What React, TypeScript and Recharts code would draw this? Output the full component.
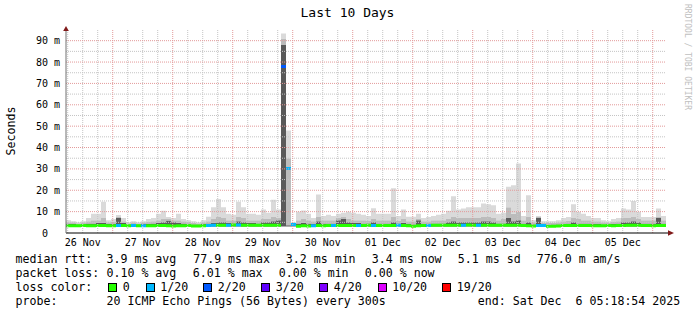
import React from "react";
import {
  ComposedChart,
  Area,
  XAxis,
  YAxis,
  ReferenceLine,
  ReferenceDot,
} from "recharts";

// 2 hour bins, Nov 26 05:18:54 -> Dec 6 05:18:54 (last entry closes the step)
const BIN_HOURS = 2;

const smokeMax = [
  6, 5.5, 5, 5.5, 7, 9, 9, 14.6, 6, 6.5,
  8.4, 7, 5, 5.5, 5, 5.5, 6.5, 7, 9, 10.4,
  7.5, 7, 9, 6.5, 6, 5.5, 5, 6, 7.6, 12,
  15.9, 12, 9, 8.5, 14.6, 12, 9, 9, 8.5, 11,
  9.5, 15.6, 11, 93.4, 48, 5, 10, 10.5, 9, 7,
  18, 8, 8.5, 8, 9, 9.5, 10, 9.5, 9, 8.5,
  8, 11.6, 9, 9, 9, 21, 8, 11, 7.6, 7.6,
  9, 7, 7.5, 8, 8.5, 9, 10.4, 17.2, 11, 11.5,
  12, 12, 12, 13.8, 13.5, 13, 9, 9.5, 21.6, 22.4,
  32.5, 8, 17.7, 6, 8, 5.5, 5.5, 5.5, 6, 7,
  7.5, 13.5, 10, 9, 8, 7, 7, 6, 5.5, 6.5,
  7, 11.5, 11, 15, 10, 7.5, 7.5, 7.5, 11.5, 8,
  8,
];

const smokeMid = [
  5, 5, 4.6, 5, 5.5, 6, 6, 7, 5, 5.2,
  7.5, 5.5, 4.6, 5, 4.6, 5, 5.2, 5.5, 6, 6.5,
  6.5, 6, 6, 5.5, 5.2, 4.8, 4.6, 5, 5.5, 6.5,
  7.5, 7, 6, 6, 7.5, 7, 6, 6, 6, 6.5,
  6.5, 7.5, 7, 91, 35, 4.5, 6, 6.5, 6, 5.5,
  7.5, 6, 6, 6, 7, 7.5, 6.5, 6, 6, 6,
  5.8, 6.5, 6, 6, 6, 7.5, 5.8, 6.5, 5.5, 5.5,
  6.5, 5.5, 5.5, 6, 6, 6, 6.5, 7.5, 7, 7,
  7, 7, 7, 7.5, 7.5, 7, 6, 6.5, 12, 9,
  10, 6, 7.5, 5, 7.5, 4.8, 4.8, 4.8, 5, 5.5,
  5.8, 7, 6.5, 6, 6, 5.5, 5.5, 5, 4.8, 5.2,
  5.5, 7, 7, 7.5, 6.5, 6, 6, 6, 7.5, 6,
  6,
];

const smokeDark = [
  4.2, 4.2, 4, 4.2, 4.5, 4.5, 4.8, 4.8, 4.2, 4.2,
  7, 4.8, 4, 4.2, 4, 4.2, 4.2, 4.5, 4.8, 5,
  5.8, 5, 4.8, 4.5, 4.2, 4, 4, 4.2, 4.5, 4.8,
  5, 5, 4.8, 4.5, 5.5, 5, 4.8, 4.8, 4.5, 5,
  5, 5.5, 6, 88, 3.6, 3.8, 4.5, 4.8, 4.5, 4.2,
  5.5, 4.5, 4.5, 4.5, 6, 6.5, 5, 4.8, 4.8, 4.5,
  4.5, 5, 4.5, 4.5, 4.5, 5, 4.5, 4.8, 4.2, 4,
  6, 4.2, 4.5, 4.5, 4.5, 4.5, 5, 5.5, 5, 5,
  5, 5, 5, 5.5, 5.5, 5, 4.5, 4.5, 7, 5.5,
  6, 4.5, 5, 4, 7, 4, 4, 4, 4, 4.2,
  4.5, 5, 4.5, 4.5, 4.5, 4.2, 4.2, 4, 4, 4.2,
  4.5, 5, 5, 5.5, 5, 4.5, 4.5, 4.5, 7, 4.5,
  4.5,
];

const SMOKE_FLOOR = 3.0;

const medianRtt = [
  3.4, 3.4, 3.4, 3.5, 3.4, 3.4, 3.5, 3.5, 3.4, 3.4,
  3.5, 3.5, 3.4, 3.5, 3.4, 3.4, 3.4, 3.4, 3.5, 3.5,
  3.4, 3.3, 3.4, 3.4, 3.5, 3.3, 3.3, 3.4, 3.5, 3.6,
  3.6, 3.6, 3.6, 3.7, 3.7, 3.6, 3.6, 3.6, 3.6, 3.6,
  3.6, 3.6, 3.6, 77.9, 30.2, 4.0, 3.2, 3.4, 3.3, 3.4,
  3.5, 3.4, 3.5, 3.5, 3.5, 3.5, 3.5, 3.5, 3.5, 3.5,
  3.6, 3.5, 3.5, 3.5, 3.5, 3.5, 3.6, 3.5, 3.4, 3.2,
  3.4, 3.5, 3.5, 3.6, 3.6, 3.6, 3.6, 3.6, 3.6, 3.6,
  3.7, 3.6, 3.6, 3.6, 3.6, 3.6, 3.6, 3.6, 3.6, 3.6,
  3.6, 3.5, 3.4, 3.3, 3.5, 3.5, 3.1, 3.2, 3.3, 3.5,
  3.5, 3.5, 3.5, 3.5, 3.5, 3.4, 3.4, 3.4, 3.5, 3.4,
  3.5, 3.5, 3.6, 3.6, 3.6, 3.5, 3.5, 3.4, 3.5, 3.5,
  3.5,
];

// lost pings out of 20 per bin
const lossCount = [
  0, 0, 0, 0, 0, 0, 0, 0, 0, 0,
  1, 0, 0, 1, 0, 1, 0, 0, 0, 0,
  0, 0, 0, 0, 0, 0, 0, 0, 1, 1,
  0, 0, 1, 0, 1, 0, 0, 0, 0, 0,
  0, 0, 0, 2, 1, 1, 0, 0, 0, 1,
  0, 0, 0, 1, 0, 0, 0, 0, 1, 0,
  0, 1, 0, 0, 0, 0, 1, 0, 0, 0,
  0, 0, 1, 0, 0, 0, 0, 0, 0, 1,
  0, 0, 1, 0, 0, 0, 0, 0, 0, 0,
  0, 0, 0, 0, 1, 1, 0, 0, 0, 0,
  0, 0, 0, 0, 0, 0, 0, 0, 0, 0,
  0, 0, 0, 0, 0, 0, 0, 0, 0, 0,
  0,
];

const lossLegend = [
  { from: 0, label: "0", color: "#26ff00" },
  { from: 1, label: "1/20", color: "#00b8ff" },
  { from: 2, label: "2/20", color: "#0059ff" },
  { from: 3, label: "3/20", color: "#5e00ff" },
  { from: 4, label: "4/20", color: "#7e00ff" },
  { from: 10, label: "10/20", color: "#dd00ff" },
  { from: 19, label: "19/20", color: "#ff0000" },
];

// hours since start
const dayLabels = ["26 Nov", "27 Nov", "28 Nov", "29 Nov", "30 Nov", "01 Dec", "02 Dec", "03 Dec", "04 Dec", "05 Dec"];
const labelTicks = [6.685, 30.685, 54.685, 78.685, 102.685, 126.685, 150.685, 174.685, 198.685, 222.685];
const midnightLines = [18.685, 42.685, 66.685, 90.685, 114.685, 138.685, 162.685, 186.685, 210.685, 234.685];
const sixHourLines = [
  0.685, 6.685, 12.685, 24.685, 30.685, 36.685, 48.685, 54.685, 60.685, 72.685,
  78.685, 84.685, 96.685, 102.685, 108.685, 120.685, 126.685, 132.685, 144.685, 150.685,
  156.685, 168.685, 174.685, 180.685, 192.685, 198.685, 204.685, 216.685, 222.685, 228.685,
];
const yTicks = [0, 10, 20, 30, 40, 50, 60, 70, 80, 90];
const yMinorLines = [5, 15, 25, 35, 45, 55, 65, 75, 85];

const statsRtt = ["median rtt:", "3.9 ms avg", "77.9 ms max", "3.2 ms min", "3.4 ms now", "5.1 ms sd", "776.0 m am/s"];
const statsLoss = ["packet loss:", "0.10 % avg", "6.01 % max", "0.00 % min", "0.00 % now"];

const MONO = "'DejaVu Sans Mono', monospace";
const MEDIAN_HALF = 0.7; // half the median line thickness, in ms

function lossColor(n: number) {
  let c = lossLegend[0].color;
  for (const l of lossLegend) if (n >= l.from) c = l.color;
  return c;
}

const chartData = medianRtt.map((m, i) => ({
  t: i * BIN_HOURS,
  floor: SMOKE_FLOOR,
  dark: Math.max(0, smokeDark[i] - SMOKE_FLOOR),
  mid: Math.max(0, smokeMid[i] - Math.max(smokeDark[i], SMOKE_FLOOR)),
  light: Math.max(0, smokeMax[i] - Math.max(smokeMid[i], smokeDark[i])),
  medBase: m - MEDIAN_HALF,
  medBand: MEDIAN_HALF * 2,
}));

const bins = lossCount.length - 1;

const YTick = ({ x, y, payload }: any) => (
  <text x={x} y={y} textAnchor="end" dominantBaseline="central" fontFamily={MONO} fontSize={10} fill="#000">
    {payload.value === 0 ? "0\u00a0\u00a0" : `${payload.value} m`}
  </text>
);

const XTick = ({ x, y, payload }: any) => (
  <text x={x} y={y} textAnchor="middle" dominantBaseline="central" fontFamily={MONO} fontSize={10} fill="#000">
    {dayLabels[labelTicks.indexOf(payload.value)]}
  </text>
);

const ARROW = "#801a1a";

const row = (top: number): React.CSSProperties => ({
  position: "absolute",
  top,
  height: 14,
  lineHeight: "14px",
  fontFamily: MONO,
  fontSize: 11.6,
  whiteSpace: "pre",
  color: "#000",
});

const rttX = [16, 107, 193.7, 286.3, 372.3, 458.3, 537.3];
const lossX = [16, 107, 193.3, 279.3, 365.3];
const squareX = [108.3, 145.7, 203.3, 261.3, 319.3, 377.7, 442.3];

export default function App() {
  return (
    <div style={{ position: "absolute", left: 0, top: 0, width: 697, height: 315, background: "#fff", overflow: "hidden" }}>
      <ComposedChart width={697} height={315} data={chartData} margin={{ top: 30, right: 31, bottom: 52, left: 0 }}>
        <defs>
          <linearGradient id="lossGrad" x1="0" y1="0" x2="1" y2="0">
            {lossCount.slice(0, bins).flatMap((n, i) => [
              <stop key={`a${i}`} offset={i / bins} stopColor={lossColor(n)} />,
              <stop key={`b${i}`} offset={(i + 1) / bins} stopColor={lossColor(n)} />,
            ])}
          </linearGradient>
        </defs>
        <XAxis
          type="number"
          dataKey="t"
          domain={[0, 240]}
          ticks={labelTicks}
          tick={<XTick />}
          tickLine={false}
          tickMargin={3}
          axisLine={{ stroke: "#000" }}
          height={30}
          interval={0}
        />
        <YAxis
          type="number"
          domain={[0, 95]}
          ticks={yTicks}
          tick={<YTick />}
          tickLine={false}
          tickMargin={0}
          axisLine={{ stroke: "#707070" }}
          width={66}
          interval={0}
        />
        <Area type="stepAfter" dataKey="floor" stackId="s" stroke="none" fill="transparent" fillOpacity={0} isAnimationActive={false} />
        <Area type="stepAfter" dataKey="dark" stackId="s" stroke="none" fill="#5a5a5a" fillOpacity={1} isAnimationActive={false} />
        <Area type="stepAfter" dataKey="mid" stackId="s" stroke="none" fill="#bcbcbc" fillOpacity={1} isAnimationActive={false} />
        <Area type="stepAfter" dataKey="light" stackId="s" stroke="none" fill="#dadada" fillOpacity={1} isAnimationActive={false} />
        {sixHourLines.map((v) => (
          <ReferenceLine key={`vx${v}`} x={v} stroke="#c4c4c4" strokeDasharray="1 1" />
        ))}
        {yMinorLines.map((v) => (
          <ReferenceLine key={`hy${v}`} y={v} stroke="#c4c4c4" strokeDasharray="1 1" />
        ))}
        {midnightLines.map((v) => (
          <ReferenceLine key={`mx${v}`} x={v} stroke="#e39a9a" strokeDasharray="1 1" />
        ))}
        {yTicks.slice(1).map((v) => (
          <ReferenceLine key={`my${v}`} y={v} stroke="#e39a9a" strokeDasharray="1 1" />
        ))}
        <Area type="stepAfter" dataKey="medBase" stackId="m" stroke="none" fill="transparent" fillOpacity={0} isAnimationActive={false} />
        <Area type="stepAfter" dataKey="medBand" stackId="m" stroke="none" fill="url(#lossGrad)" fillOpacity={1} isAnimationActive={false} />
        <ReferenceDot
          x={240}
          y={0}
          r={1}
          ifOverflow="visible"
          shape={(p: any) => (
            <g>
              <line x1={p.cx} y1={p.cy} x2={p.cx + 2} y2={p.cy} stroke="#000" />
              <polygon points={`${p.cx + 2},${p.cy - 2.8} ${p.cx + 8},${p.cy} ${p.cx + 2},${p.cy + 2.8}`} fill={ARROW} />
            </g>
          )}
        />
        <ReferenceDot
          x={0}
          y={95}
          r={1}
          ifOverflow="visible"
          shape={(p: any) => (
            <polygon points={`${p.cx - 2.8},${p.cy + 1} ${p.cx},${p.cy - 4} ${p.cx + 2.8},${p.cy + 1}`} fill={ARROW} />
          )}
        />
      </ComposedChart>

      <div style={{ position: "absolute", top: 5, left: 0, width: 695, textAlign: "center", fontFamily: MONO, fontSize: 13, lineHeight: "16px", color: "#000" }}>
        Last 10 Days
      </div>

      <div
        style={{
          position: "absolute",
          left: 11,
          top: 131,
          transform: "translate(-50%, -50%) rotate(-90deg)",
          fontFamily: MONO,
          fontSize: 11.6,
          lineHeight: "14px",
          whiteSpace: "nowrap",
          color: "#000",
        }}
      >
        Seconds
      </div>

      <div
        style={{
          position: "absolute",
          left: 682,
          top: 4,
          writingMode: "vertical-rl",
          fontFamily: MONO,
          fontSize: 8,
          lineHeight: "10px",
          whiteSpace: "nowrap",
          color: "#c0c0c0",
        }}
      >
        RRDTOOL / TOBI OETIKER
      </div>

      {statsRtt.map((s, i) => (
        <div key={`r${i}`} style={{ ...row(252.3), left: rttX[i] - 0.5 }}>{s}</div>
      ))}
      {statsLoss.map((s, i) => (
        <div key={`l${i}`} style={{ ...row(266.3), left: lossX[i] - 0.5 }}>{s}</div>
      ))}
      <div style={{ ...row(280.3), left: 15.5 }}>loss color:</div>
      {lossLegend.map((l, i) => (
        <React.Fragment key={`q${i}`}>
          <div
            style={{
              position: "absolute",
              left: squareX[i],
              top: 283,
              width: 9,
              height: 9,
              boxSizing: "border-box",
              border: "1px solid #000",
              background: l.color,
            }}
          />
          <div style={{ ...row(280.3), left: squareX[i] + 14.5 }}>{l.label}</div>
        </React.Fragment>
      ))}
      <div style={{ ...row(294.3), left: 15.5 }}>probe:</div>
      <div style={{ ...row(294.3), left: 106.5 }}>20 ICMP Echo Pings (56 Bytes) every 300s</div>
      <div style={{ ...row(294.3), left: 477.8 }}>{"end: Sat Dec  6 05:18:54 2025"}</div>
    </div>
  );
}
